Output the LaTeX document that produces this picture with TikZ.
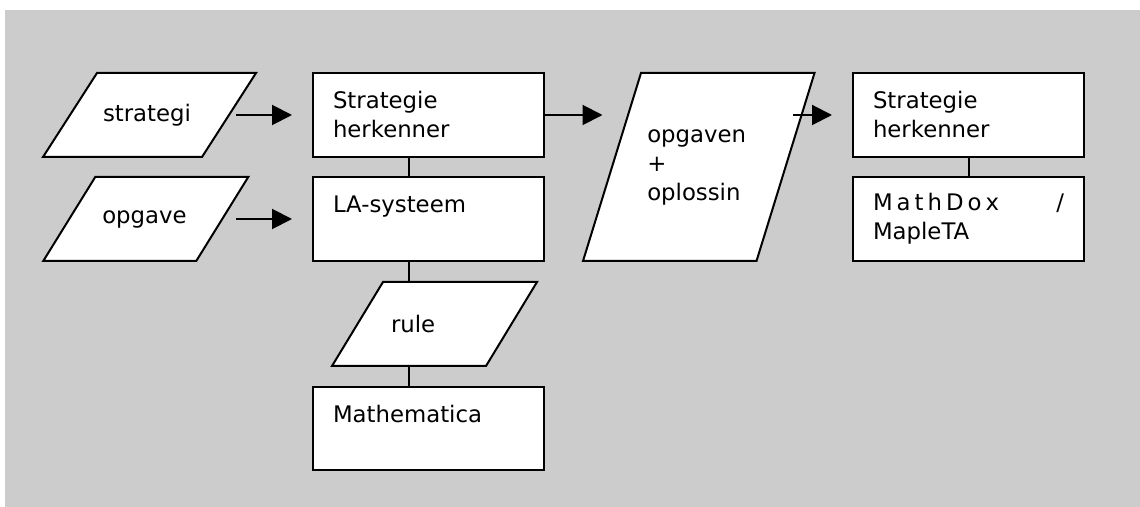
\documentclass[tikz,border=0pt]{standalone}
\usepackage{fontspec}
\setmainfont{DejaVu Sans}
\usepackage{tikz}
\usetikzlibrary{arrows.meta, calc, backgrounds}
\definecolor{grayBG}{HTML}{CCCCCC}
\definecolor{lineA}{HTML}{000000}
\tikzset{
  box/.style={
    draw=lineA, fill=white, rectangle, line width=1pt,
    minimum width=115.5pt, minimum height=42pt, inner xsep=10pt,
    text width=95.5pt, align=left, font=\fontsize{11.4}{14.5}\selectfont
  },
  io/.style 2 args={
    rectangle, inner sep=0pt, outer sep=0pt,
    minimum width=#1, minimum height=#2,
    text width=43.5pt, align=left,
    font=\fontsize{11.4}{14.5}\selectfont
  },
  ioline/.style={draw=lineA, fill=white, line width=1pt, line join=miter},
  arrow/.style={-{Triangle[length=10pt,width=10pt]}, line width=1pt, draw=lineA},
  link/.style={line width=1pt, draw=lineA}
}
% parallelogram round an io node: #1 node, #2 slant
\newcommand{\ioframe}[2]{%
  \draw[ioline] ($(#1.north west)+(#2/2,0)$) -- ($(#1.north east)+(#2/2,0)$)
    -- ($(#1.south east)-(#2/2,0)$) -- ($(#1.south west)-(#2/2,0)$) -- cycle;}

\begin{document}
\begin{tikzpicture}[x=0.5pt, y=-0.5pt]
  \useasboundingbox (0,0) rectangle (1140,507);

  % inputs
  \node[io={79.5pt}{42pt}, text width=46.5pt] (strategi) at (149.5,115) {strategi};
  \node[io={76.5pt}{42pt}] (opgave) at (145.75,219) {opgave};

  % middle column
  \node[box] (herk1) at (428.5,115) {Strategie\\herkenner};
  \node[box] (lasys) at (428.5,219) {LA-systeem\\\mbox{}};
  \node[io={77pt}{42pt}] (rule) at (434.5,324) {rule};
  \node[box, minimum height=41.5pt] (mathem) at (428.5,428.5) {Mathematica\\\mbox{}};

  % output
  \node[io={86.75pt}{94pt}, text width=51.5pt] (opl) at (698.75,167) {opgaven\\+\\oplossin};

  % right column
  \node[box] (herk2) at (968.5,115) {Strategie\\herkenner};
  \node[box] (mdox) at (968.5,219)
    {M\kern2pt a\kern2pt t\kern2pt h\kern2pt D\kern2pt o\kern2pt x\hfill/\\MapleTA};

  \begin{scope}[on background layer]
    \fill[grayBG] (5,10) rectangle (1140,507);
    \ioframe{strategi}{54}
    \ioframe{opgave}{52}
    \ioframe{rule}{51}
    \ioframe{opl}{58}
  \end{scope}

  \draw[arrow, shorten <=3.5pt, shorten >=10pt] (strategi.east) -- (herk1.west);
  \draw[arrow, shorten <=7pt, shorten >=10pt] (opgave.east) -- (lasys.west);
  \draw[arrow, shorten >=4.75pt] (herk1.east) -- (herk1.east -| opl.west);
  \draw[arrow, shorten <=3.75pt, shorten >=10pt] (herk2.west -| opl.east) -- (herk2.west);

  \draw[link] ($(herk1.south)+(-9.75pt,0)$) -- ($(lasys.north)+(-9.75pt,0)$);
  \draw[link] ($(lasys.south)+(-9.75pt,0)$) -- ($(rule.north -| lasys.south)+(-9.75pt,0)$);
  \draw[link] ($(rule.south -| mathem.north)+(-9.75pt,0)$) -- ($(mathem.north)+(-9.75pt,0)$);
  \draw[link] (herk2) -- (mdox);
\end{tikzpicture}
\end{document}
